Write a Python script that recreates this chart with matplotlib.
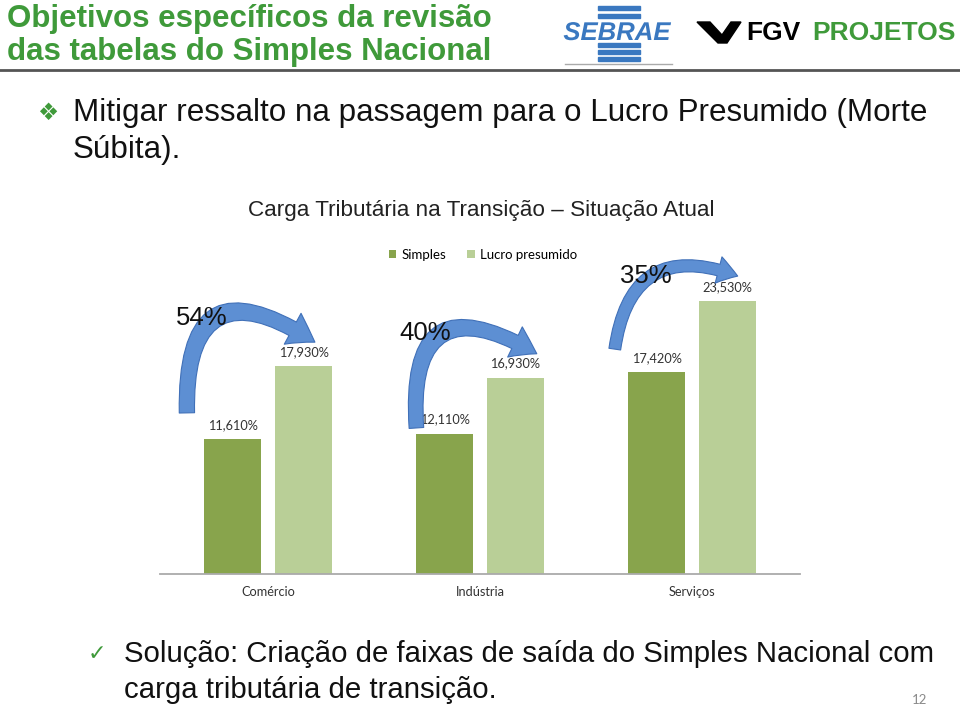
import matplotlib
matplotlib.use("Agg")
import matplotlib.pyplot as plt
from matplotlib.patches import Rectangle, Polygon
import matplotlib.patheffects as pe

# dados
categorias = ["Comércio", "Indústria", "Serviços"]
simples = [11.61, 12.11, 17.42]
lucro_presumido = [17.93, 16.93, 23.53]
series = ["Simples", "Lucro presumido"]

cor_simples = "#88a44c"
cor_lucro = "#b9cf97"
verde_titulo = "#3f9a3a"
azul_seta = "#5d8fd3"

W, H = 960, 708


def px(x, y):
    # pixel coords (top-left origin) -> figure fraction
    return x / W, 1 - y / H


def pct(v):
    return f"{v:.3f}".replace(".", ",") + "%"


fig = plt.figure(figsize=(9.6, 7.08), dpi=100)
fig.patch.set_facecolor("white")

# cabecalho
fig.text(*px(7, 19), "Objetivos específicos da revisão", fontsize=22.5,
         fontweight="bold", color=verde_titulo, family="Liberation Sans", va="center")
fig.text(*px(7, 52), "das tabelas do Simples Nacional", fontsize=22.5,
         fontweight="bold", color=verde_titulo, family="Liberation Sans", va="center")
fig.add_artist(plt.Line2D([0, 1], [1 - 70 / H] * 2, color="#555555", lw=2))

# logo sebrae
for yy in (6, 14, 43, 50, 57):
    x0, y0 = px(598, yy)
    fig.add_artist(Rectangle((x0, y0 - 4 / H), 42 / W, 4 / H, color="#3a78c0",
                             transform=fig.transFigure))
t = fig.text(*px(617, 33), "SEBRAE", fontsize=18.5, fontweight="bold", style="italic",
             color="#3a78c0", family="Liberation Sans", ha="center", va="center")
t.set_path_effects([pe.withStroke(linewidth=3, foreground="white")])
fig.add_artist(plt.Line2D([565 / W, 672 / W], [1 - 64 / H] * 2, color="#aaaaaa", lw=1))

# logo fgv
chev = [px(697, 22), px(710, 22), px(722, 35), px(731, 22), px(741, 22), px(727, 43), px(718, 43)]
fig.add_artist(Polygon(chev, closed=True, color="black", transform=fig.transFigure))
fig.text(*px(746, 33), "FGV", fontsize=19, fontweight="bold", color="black",
         family="Liberation Sans", va="center")
fig.text(*px(812, 33), "PROJETOS", fontsize=19, fontweight="bold", color=verde_titulo,
         family="Liberation Sans", va="center")

# bullet topo
fig.text(*px(37, 113), "❖", fontsize=17, color=verde_titulo, family="DejaVu Sans", va="center")
fig.text(*px(73, 113), "Mitigar ressalto na passagem para o Lucro Presumido (Morte",
         fontsize=22.6, family="Liberation Sans", va="center", color="#111111")
fig.text(*px(73, 150), "Súbita).", fontsize=22.6, family="Liberation Sans", va="center",
         color="#111111")

# titulo grafico
fig.text(*px(481, 211), "Carga Tributária na Transição – Situação Atual", fontsize=16.2,
         family="Liberation Sans", ha="center", va="center", color="#222222")

# grafico
ax = fig.add_axes([160 / W, 1 - 574 / H, 640 / W, 284 / H])
x = list(range(len(categorias)))
larg = 0.27
desl = 0.167
b1 = ax.bar([i - desl for i in x], simples, width=larg, color=cor_simples, label=series[0])
b2 = ax.bar([i + desl for i in x], lucro_presumido, width=larg, color=cor_lucro, label=series[1])
for barras, vals in ((b1, simples), (b2, lucro_presumido)):
    for r, v in zip(barras, vals):
        ax.annotate(pct(v), (r.get_x() + r.get_width() / 2, v), xytext=(0, 6),
                    textcoords="offset points", ha="center", va="bottom", fontsize=9.2,
                    family="Lato", color="#333333")

ax.set_xlim(-0.51, 2.51)
ax.set_ylim(0, 24.5)
ax.set_xticks(x)
ax.set_xticklabels(categorias, family="Lato", fontsize=9.2)
ax.tick_params(axis="x", length=0, pad=9, colors="#333333")
ax.set_yticks([])
for s in ("top", "right", "left"):
    ax.spines[s].set_visible(False)
ax.spines["bottom"].set_color("#aaaaaa")
ax.spines["bottom"].set_linewidth(1.3)

fig.legend(handles=[b1, b2], loc="center", bbox_to_anchor=px(483, 255), ncol=2,
           frameon=False, prop={"family": "Lato", "size": 9.5}, handlelength=0.55,
           handleheight=0.55, columnspacing=1.6, handletextpad=0.4)

# setas curvas: cauda (dx, y), ponta (dx, y), rotulo (dx, y), curvatura, escala
setas = [(-0.383, 13.9, 0.221, 20.0, -0.312, 22.1, -0.95, 22),
         (-0.30, 12.6, 0.268, 19.0, -0.26, 20.8, -0.95, 21),
         (-0.364, 19.4, 0.216, 25.7, -0.218, 25.7, -0.62, 17)]
for i, (tx, ty, hx, hy, lx, ly, rad, esc) in enumerate(setas):
    ax.annotate("", xy=(i + hx, hy), xytext=(i + tx, ty),
                arrowprops=dict(arrowstyle="simple,head_width=1.15,head_length=0.85,tail_width=0.5",
                                connectionstyle=f"arc3,rad={rad}", fc=azul_seta, ec="#4070b8",
                                lw=0.8, mutation_scale=esc, shrinkA=0, shrinkB=0),
                annotation_clip=False)
    var = round((lucro_presumido[i] / simples[i] - 1) * 100)
    ax.text(i + lx, ly, f"{var}%", fontsize=18.5, family="Liberation Sans", ha="center",
            va="center", color="#111111", clip_on=False)

# rodape
fig.text(*px(88, 654), "✓", fontsize=16, color=verde_titulo, family="DejaVu Sans", va="center")
fig.text(*px(124, 654), "Solução: Criação de faixas de saída do Simples Nacional com",
         fontsize=21.2, family="Liberation Sans", va="center", color="#111111")
fig.text(*px(124, 690), "carga tributária de transição.", fontsize=21.2,
         family="Liberation Sans", va="center", color="#111111")
fig.text(*px(912, 700), "12", fontsize=9.5, family="Lato", va="center", color="#8a8a8a")

fig.savefig("out.png", dpi=100)
